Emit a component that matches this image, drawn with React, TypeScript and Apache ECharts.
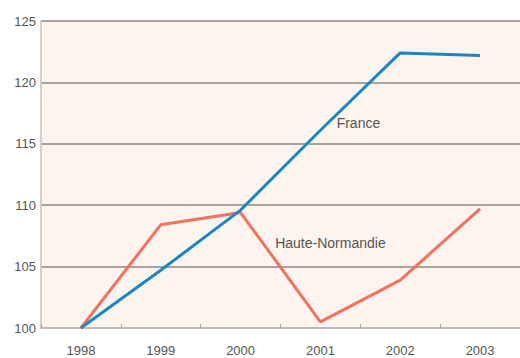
import React, { useEffect, useRef } from "react";
import * as echarts from "echarts";

const years = ["1998", "1999", "2000", "2001", "2002", "2003"];
const france = [100, 104.7, 109.6, 116.1, 122.4, 122.2];
const hauteNormandie = [100, 108.4, 109.4, 100.5, 103.9, 109.7];
const yTicks = { min: 100, max: 125, interval: 5 };
const seriesNames = ["France", "Haute-Normandie"];

const FONT = "'Liberation Sans Narrow', 'Arial Narrow', 'Liberation Sans', sans-serif";

export default function App() {
  const ref = useRef<HTMLDivElement>(null);
  useEffect(() => {
    document.body.style.margin = "0";
    const chart = echarts.init(ref.current!, undefined, { renderer: "svg" });
    chart.setOption({
      animation: false,
      backgroundColor: "#ffffff",
      grid: {
        left: 41,
        right: -1,
        top: 21,
        bottom: 30,
        show: true,
        backgroundColor: "#fdf4ef",
        borderWidth: 0,
      },
      xAxis: {
        type: "category",
        data: years,
        boundaryGap: true,
        axisLine: { show: true, lineStyle: { color: "#c8c2bd", width: 1.5 } },
        axisTick: { show: true, inside: true, length: 4, lineStyle: { color: "#aaa5a0" } },
        axisLabel: { color: "#555", fontSize: 13, margin: 16, fontFamily: FONT },
        splitLine: { show: false },
      },
      yAxis: {
        type: "value",
        min: yTicks.min,
        max: yTicks.max,
        interval: yTicks.interval,
        axisLine: { show: true, lineStyle: { color: "#c8c2bd", width: 1.5 } },
        axisTick: { show: false },
        axisLabel: { color: "#555", fontSize: 13, margin: 5, fontFamily: FONT },
        splitLine: { show: true, lineStyle: { color: "#8d8883", width: 1.5 } },
      },
      series: [
        {
          name: seriesNames[0],
          type: "line",
          data: france,
          symbol: "none",
          lineStyle: { color: "#1a87c4", width: 3 },
          z: 3,
        },
        {
          name: seriesNames[1],
          type: "line",
          data: hauteNormandie,
          symbol: "none",
          lineStyle: { color: "#f2725c", width: 3 },
          z: 2,
        },
      ],
    });
    const pFr = chart.convertToPixel({ seriesIndex: 0 }, [3, 116.1]) as number[];
    const pHn = chart.convertToPixel({ seriesIndex: 1 }, [3, 106.9]) as number[];
    chart.setOption({
      graphic: [
        {
          type: "text",
          x: pFr[0] + 38,
          y: pFr[1] - 7,
          style: { text: seriesNames[0], fill: "#555", fontSize: 14, fontFamily: FONT, align: "center", verticalAlign: "middle" },
        },
        {
          type: "text",
          x: pHn[0] + 10,
          y: pHn[1],
          style: { text: seriesNames[1], fill: "#555", fontSize: 14, fontFamily: FONT, align: "center", verticalAlign: "middle" },
        },
      ],
    });
    return () => chart.dispose();
  }, []);
  return <div ref={ref} style={{ width: 520, height: 358 }} />;
}
